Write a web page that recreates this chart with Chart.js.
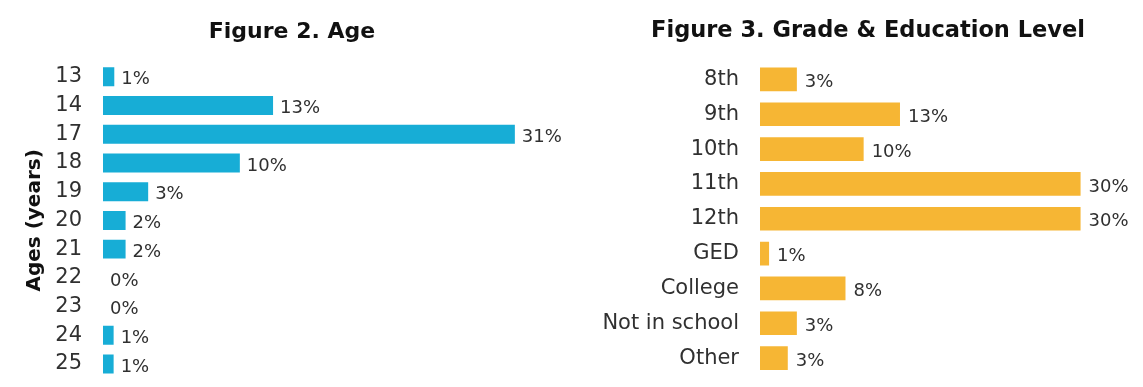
<!DOCTYPE html>
<html><head><meta charset="utf-8">
<script src="https://cdn.jsdelivr.net/npm/chart.js@4/dist/chart.umd.min.js"></script>
<style>
html,body{margin:0;padding:0;background:#fff;}
#wrap{position:relative;width:1143px;height:387px;overflow:hidden;}
#c1{position:absolute;left:0;top:0;}
#c2{position:absolute;left:580px;top:0;}
</style></head>
<body><div id="wrap">
<canvas id="c1" width="575" height="387"></canvas>
<canvas id="c2" width="563" height="387"></canvas>
</div>
<script>
const ageCategories = ['13','14','17','18','19','20','21','22','23','24','25'];
const ageValues = [0.85, 12.8, 31, 10.3, 3.4, 1.7, 1.7, 0, 0, 0.8, 0.8];
const ageLabels = ['1%','13%','31%','10%','3%','2%','2%','0%','0%','1%','1%'];

const gradeCategories = ['8th','9th','10th','11th','12th','GED','College','Not in school','Other'];
const gradeValues = [3.45, 13.1, 9.7, 30, 30, 0.85, 8.0, 3.45, 2.6];
const gradeLabels = ['3%','13%','10%','30%','30%','1%','8%','3%','3%'];

const FONT = 'DejaVu Sans';
const TEXT = '#303030';

const valueLabelPlugin = {
  id: 'valueLabels',
  afterDatasetsDraw(chart, args, opts) {
    const ctx = chart.ctx;
    const meta = chart.getDatasetMeta(0);
    ctx.save();
    ctx.font = opts.size + 'px "' + FONT + '"';
    ctx.fillStyle = TEXT;
    ctx.textAlign = 'left';
    ctx.textBaseline = 'middle';
    meta.data.forEach((bar, i) => {
      ctx.fillText(opts.labels[i], bar.x + opts.gap, bar.y + 3);
    });
    ctx.restore();
  }
};

function makeChart(id, cats, vals, labels, color, title, titleSize, yTitle, padLeft, leftWidth, xMax, padRight, titleTop, padBottom, barPct, gap) {
  return new Chart(document.getElementById(id), {
    type: 'bar',
    data: { labels: cats, datasets: [{ data: vals, backgroundColor: color, borderWidth: 0,
      barPercentage: barPct, categoryPercentage: 1.0 }] },
    options: {
      indexAxis: 'y', responsive: false, animation: false,
      layout: { padding: { top: 0, right: padRight, bottom: padBottom, left: padLeft } },
      plugins: {
        legend: { display: false }, tooltip: { enabled: false },
        title: { display: true, text: title, color: '#111',
          font: { family: FONT, size: titleSize, weight: 'bold' }, padding: { top: titleTop, bottom: 17 } },
        valueLabels: { labels: labels, size: 18, gap: gap }
      },
      scales: {
        x: { display: false, min: 0, max: xMax },
        y: {
          grid: { display: false }, border: { display: false },
          ticks: { color: TEXT, font: { family: FONT, size: 21 }, padding: 13 },
          title: yTitle ? { display: true, text: yTitle, color: '#111',
            font: { family: FONT, size: 20, weight: 'bold' }, padding: { top: 7, bottom: 0 } } : { display: false },
          afterFit(s) { s.width = leftWidth; s.paddingTop = 0; s.paddingBottom = 0; }
        }
      }
    },
    plugins: [valueLabelPlugin]
  });
}

makeChart('c1', ageCategories, ageValues, ageLabels, '#17ADD6', 'Figure 2. Age', 22, 'Ages (years)', 16, 87, 35, 7, 19, 8.6, 0.66, 7);
makeChart('c2', gradeCategories, gradeValues, gradeLabels, '#F6B634', 'Figure 3. Grade & Education Level', 22.5, null, 22, 158, 35, 9, 18, 11.5, 0.68, 8);
</script>
</body></html>
